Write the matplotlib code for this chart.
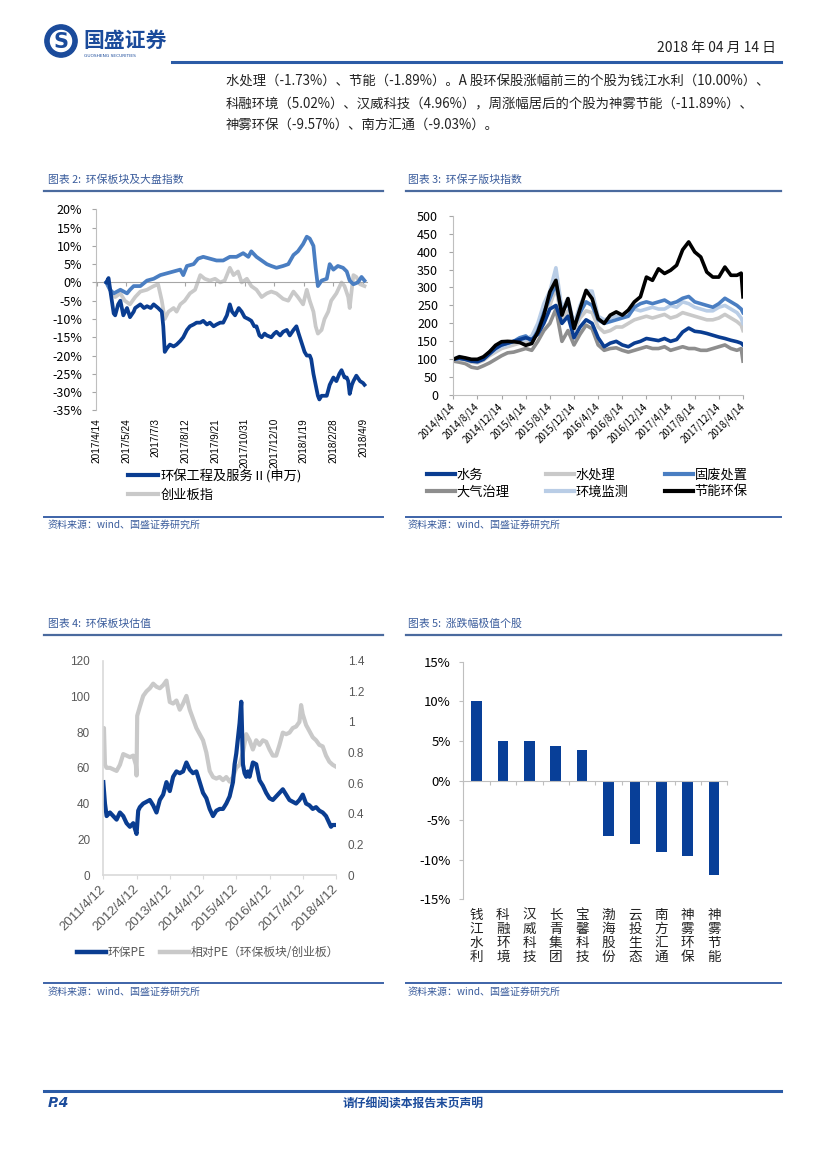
import matplotlib
matplotlib.use('Agg')
import matplotlib.pyplot as plt
import matplotlib.transforms as mtransforms
from matplotlib.lines import Line2D
from matplotlib.patches import Circle
import numpy as np

plt.rcParams['font.family'] = ['Noto Sans CJK SC', 'DejaVu Sans']
plt.rcParams['axes.unicode_minus'] = False

# ---------------- data ----------------
# Chart 2: index performance, day offsets from 2017/4/14, values in %
env_days = [13, 16, 19, 23, 25, 29, 32, 36, 41, 45, 50, 52, 59, 64, 68, 73, 77, 83, 88, 90, 92, 95, 99,
            104, 108, 113, 117, 122, 126, 131, 135, 140, 144, 149, 153, 158, 162, 167, 171, 176, 180,
            183, 187, 192, 196, 200, 205, 209, 213, 216, 220, 223, 227, 230, 236, 240, 243, 248, 252,
            257, 261, 266, 270, 273, 277, 281, 284, 288, 290, 293, 296, 299, 301, 304, 308, 311, 315,
            320, 324, 328, 331, 335, 338, 340, 342, 345, 347, 351, 356, 360, 362]
env_vals = [0, 1.2, -3, -8.5, -9, -6, -5, -9, -7, -9.5, -8, -7, -6, -7, -6.5, -7, -6, -7, -8, -12, -19, -18,
            -17, -17.5, -17, -16, -15, -13, -12, -11.5, -11, -11, -10.5, -11.5, -11, -12, -11.5, -11,
            -11, -9, -6, -8, -9, -7, -8, -9.5, -10, -10.5, -12, -12, -14.5, -15, -14, -14.5, -15, -14,
            -13.5, -14.5, -13.5, -13, -14.5, -13, -12, -14, -16.5, -19, -20, -20, -21, -25, -28, -31,
            -32, -31, -31, -31, -28, -26, -27, -25, -24, -26, -26, -27, -30.5, -28, -27, -25.5, -27,
            -27.5, -28]

idx_days = [13, 18, 23, 32, 41, 45, 50, 59, 68, 77, 86, 95, 104, 113, 117, 122, 131, 137, 144, 153, 162,
            171, 180, 189, 198, 205, 209, 216, 223, 230, 236, 243, 252, 259, 266, 272, 279, 284, 288,
            293, 296, 299, 304, 311, 315, 320, 326, 333, 338, 342, 347, 353, 358, 362]
idx_vals = [0, -2, -3, -2, -3, -2, -1, -1, 0.5, 1, 2, 2.5, 3, 3.5, 2, 4.5, 5, 6.5, 7, 6.5, 6, 6, 7, 7, 8,
            7, 8.5, 7, 6, 5, 4.5, 4, 4.5, 5, 7.5, 8.5, 10.5, 12.5, 12, 10, 4, -1, 0.5, 1, 5, 3.5, 4.5,
            4, 3, 0.5, -0.5, 0, 1.5, 0.5]

cyb_days = [13, 18, 25, 32, 38, 45, 52, 59, 68, 77, 83, 88, 92, 97, 104, 108, 113, 119, 126, 133, 140,
            146, 153, 160, 167, 173, 180, 185, 191, 196, 203, 209, 216, 223, 230, 236, 243, 252, 259,
            266, 272, 279, 284, 288, 293, 296, 299, 304, 308, 313, 317, 324, 331, 335, 340, 342, 347,
            351, 356, 362]
cyb_vals = [0, -2, -4, -3, -5, -6, -4, -2.5, -2, -1, -0.5, -5, -10, -8, -7, -8, -6, -5, -3, -2, 2, 1,
            0.5, 1, 0, 0.5, 4, 2, 3, 0, 1, -1, -2, -4, -3, -2.5, -3, -4.5, -5, -2.5, -4, -6, -2, -5,
            -8, -12, -14, -13, -10, -8, -5, -3, 0, -1, -4, -7, 2, 1.5, -0.5, -1]

c2_tick_days = [0, 40, 80, 120, 160, 200, 240, 280, 320, 360]
c2_tick_labels = ['2017/4/14', '2017/5/24', '2017/7/3', '2017/8/12', '2017/9/21', '2017/10/31',
                  '2017/12/10', '2018/1/19', '2018/2/28', '2018/4/9']

# Chart 3: sub-sector indices, months since 2014/4/14
c3_months = list(range(48)) + [47.7, 48]
water = [100, 103, 100, 95, 93, 100, 115, 130, 140, 145, 150, 155, 160, 155, 170, 200, 240, 250, 200,
         220, 160, 190, 210, 200, 160, 135, 145, 150, 140, 135, 145, 150, 158, 155, 152, 158, 150, 155,
         176, 187, 178, 176, 172, 167, 162, 158, 153, 149, 145, 140]
water_treat = [100, 100, 97, 92, 90, 97, 110, 120, 130, 135, 140, 145, 150, 150, 180, 220, 250, 300,
               210, 235, 180, 215, 235, 230, 190, 175, 180, 190, 190, 200, 210, 215, 220, 215, 220,
               225, 215, 220, 230, 225, 220, 215, 210, 210, 215, 225, 215, 205, 195, 180]
solid_waste = [100, 103, 100, 95, 96, 105, 120, 135, 140, 145, 150, 160, 165, 150, 180, 230, 270, 310,
               230, 260, 190, 230, 260, 250, 210, 200, 205, 210, 215, 220, 245, 255, 260, 255, 260,
               265, 255, 260, 270, 275, 260, 255, 250, 245, 255, 270, 260, 250, 240, 230]
air = [95, 92, 88, 78, 75, 82, 90, 100, 110, 118, 120, 125, 130, 125, 150, 180, 200, 240, 150, 180,
       140, 170, 195, 185, 140, 125, 130, 132, 125, 120, 125, 130, 135, 130, 130, 135, 125, 130, 135,
       130, 130, 125, 125, 130, 135, 140, 130, 125, 130, 95]
monitor = [100, 108, 102, 98, 97, 103, 115, 125, 135, 140, 150, 150, 155, 165, 200, 255, 290, 355,
           240, 270, 200, 250, 290, 290, 220, 210, 215, 220, 220, 230, 240, 235, 240, 245, 240, 240,
           250, 245, 260, 255, 245, 240, 235, 235, 245, 250, 240, 230, 215, 200]
energy = [100, 107, 104, 100, 100, 107, 121, 139, 149, 150, 149, 147, 139, 144, 176, 223, 288, 320,
          223, 269, 186, 241, 292, 269, 213, 200, 223, 232, 223, 237, 260, 274, 329, 320, 352, 339,
          348, 362, 405, 427, 399, 385, 343, 329, 329, 357, 334, 334, 340, 274]
c3_tick_months = list(range(0, 49, 4))
c3_tick_labels = ['2014/4/14', '2014/8/14', '2014/12/14', '2015/4/14', '2015/8/14', '2015/12/14',
                  '2016/4/14', '2016/8/14', '2016/12/14', '2017/4/14', '2017/8/14', '2017/12/14',
                  '2018/4/14']

# Chart 4: valuation, years since 2011/4/12
pe_years = [0.0, 0.05, 0.1, 0.2, 0.3, 0.4, 0.5, 0.6, 0.7, 0.8, 0.9, 1.0, 1.05, 1.1, 1.2, 1.3, 1.4, 1.5,
            1.6, 1.7, 1.8, 1.9, 2.0, 2.1, 2.2, 2.3, 2.4, 2.5, 2.6, 2.7, 2.8, 2.9, 3.0, 3.1, 3.2, 3.3,
            3.4, 3.5, 3.6, 3.7, 3.8, 3.9, 3.95, 4.0, 4.1, 4.15, 4.2, 4.25, 4.3, 4.35, 4.4, 4.5, 4.6,
            4.7, 4.8, 4.9, 5.0, 5.1, 5.2, 5.3, 5.4, 5.5, 5.6, 5.7, 5.8, 5.9, 6.0, 6.1, 6.2, 6.3, 6.4,
            6.5, 6.6, 6.7, 6.8, 6.85, 6.9, 6.98]
pe_vals = [52, 40, 33, 35, 33, 31, 35, 33, 29, 27, 29, 23, 36, 38, 40, 41, 42, 39, 35, 42, 45, 52, 47,
           55, 58, 57, 58, 63, 59, 57, 58, 52, 46, 43, 37, 33, 36, 37, 37, 40, 44, 52, 62, 68, 85, 97,
           62, 57, 55, 58, 55, 63, 62, 53, 50, 46, 43, 42, 44, 46, 48, 45, 42, 41, 40, 42, 45, 40, 39,
           37, 38, 36, 35, 33, 29, 27, 28, 28]
rel_years = [0.0, 0.02, 0.05, 0.1, 0.2, 0.3, 0.4, 0.5, 0.6, 0.7, 0.8, 0.9, 0.98, 1.0, 1.02, 1.1, 1.2,
             1.3, 1.4, 1.5, 1.6, 1.7, 1.8, 1.9, 1.95, 2.0, 2.1, 2.2, 2.3, 2.4, 2.5, 2.6, 2.7, 2.8, 2.9,
             3.0, 3.1, 3.2, 3.3, 3.4, 3.5, 3.6, 3.7, 3.8, 3.9, 4.0, 4.1, 4.2, 4.3, 4.4, 4.5, 4.6, 4.7,
             4.8, 4.9, 5.0, 5.1, 5.2, 5.3, 5.4, 5.5, 5.6, 5.7, 5.8, 5.9, 5.95, 6.0, 6.1, 6.2, 6.3, 6.4,
             6.5, 6.6, 6.7, 6.8, 6.9, 6.98]
rel_vals = [0.96, 0.96, 0.72, 0.70, 0.70, 0.69, 0.68, 0.72, 0.79, 0.78, 0.77, 0.78, 0.72, 0.65, 1.04,
            1.10, 1.17, 1.20, 1.22, 1.25, 1.23, 1.22, 1.24, 1.27, 1.20, 1.13, 1.12, 1.14, 1.08, 1.12,
            1.17, 1.08, 1.02, 0.96, 0.92, 0.88, 0.80, 0.68, 0.64, 0.63, 0.64, 0.62, 0.64, 0.61, 0.64,
            0.70, 0.72, 0.80, 0.92, 0.88, 0.82, 0.88, 0.85, 0.88, 0.87, 0.82, 0.78, 0.78, 0.85, 0.93,
            0.92, 0.93, 0.96, 0.97, 1.00, 1.11, 1.05, 0.98, 0.94, 0.90, 0.88, 0.85, 0.84, 0.78, 0.74,
            0.72, 0.71]
c4_tick_labels = ['2011/4/12', '2012/4/12', '2013/4/12', '2014/4/12', '2015/4/12', '2016/4/12',
                  '2017/4/12', '2018/4/12']

# Chart 5: weekly extreme movers
stocks = ['钱江水利', '科融环境', '汉威科技', '长青集团', '宝馨科技',
          '渤海股份', '云投生态', '南方汇通', '神雾环保', '神雾节能']
changes = [10.00, 5.02, 4.96, 4.30, 3.80, -6.96, -8.04, -9.03, -9.57, -11.89]

# ---------------- styles ----------------
W, H = 827, 1169
DARK = '#0A3D91'
MID = '#4A7EC2'
LGREY = '#C9C9C9'
GREY = '#8E8E8E'
LBLUE = '#B9CDE6'
BAR = '#083F98'
HEAD = '#4A6A9E'
TXTBLUE = '#3A5C9C'
AXGREY = '#A6A6A6'

fig = plt.figure(figsize=(8.27, 11.69), dpi=100)


def fx(x):
    return x / W


def fy(y):
    return 1 - y / H


def add_ax(l, t, r, b):
    return fig.add_axes([l / W, 1 - b / H, (r - l) / W, (b - t) / H])


def hline(x1, x2, y, color, lw):
    fig.add_artist(Line2D([fx(x1), fx(x2)], [fy(y), fy(y)], transform=fig.transFigure,
                          color=color, lw=lw))


# ---------------- header ----------------
logo = fig.add_axes([fx(44), fy(58), 34 / W, 34 / H])
logo.set_xlim(-1, 1)
logo.set_ylim(-1, 1)
logo.set_aspect('equal')
logo.axis('off')
logo.add_patch(Circle((0, 0), 0.95, color='#1B4B9B'))
logo.add_patch(Circle((0, 0), 0.62, color='white'))
logo.text(0, -0.05, 'S', color='#1B4B9B', fontsize=15, fontweight='bold', ha='center', va='center',
          family='DejaVu Sans')
fig.text(fx(83), fy(40), '国盛证券', fontsize=15, fontweight='bold', color='#1B4B9B', va='center')
fig.text(fx(84), fy(56), 'GUOSHENG SECURITIES', fontsize=3.2, color='#1B4B9B', va='center',
         family='DejaVu Sans')
fig.text(fx(776), fy(48), '2018 年 04 月 14 日', fontsize=10, ha='right', va='center', color='#222222')
hline(172, 781, 62, '#2B5BA6', 2.2)

body = ['水处理（-1.73%）、节能（-1.89%）。A 股环保股涨幅前三的个股为钱江水利（10.00%）、',
        '科融环境（5.02%）、汉威科技（4.96%），周涨幅居后的个股为神雾节能（-11.89%）、',
        '神雾环保（-9.57%）、南方汇通（-9.03%）。']
for i, line in enumerate(body):
    fig.text(fx(226), fy(82 + 21.5 * i), line, fontsize=9.6, va='center', color='#222222')

# section titles / rules
for (x, y, t) in [(48, 180, '图表 2:  环保板块及大盘指数'), (408, 180, '图表 3:  环保子版块指数'),
                  (48, 624, '图表 4:  环保板块估值'), (408, 624, '图表 5:  涨跌幅极值个股')]:
    fig.text(fx(x), fy(y), t, fontsize=7.8, color=TXTBLUE, va='center')
for (x1, x2, y) in [(44, 383, 191), (406, 781, 191), (44, 383, 635), (406, 781, 635)]:
    hline(x1, x2, y, HEAD, 1.6)
for (x1, x2, y) in [(44, 383, 517), (406, 781, 517), (44, 383, 983), (406, 781, 983)]:
    hline(x1, x2, y, '#3D63A8', 1.4)
for (x, y) in [(48, 525), (408, 525), (48, 992), (408, 992)]:
    fig.text(fx(x), fy(y), '资料来源：wind、国盛证券研究所', fontsize=7.2, color=TXTBLUE, va='center')

# footer
hline(44, 781, 1091, '#2B5BA6', 2.2)
fig.text(fx(48), fy(1103), 'P.4', fontsize=10, fontweight='bold', style='italic', color='#1B4B9B',
         va='center', family='DejaVu Sans')
fig.text(fx(413), fy(1103), '请仔细阅读本报告末页声明', fontsize=8.5, fontweight='bold', color='#1B4B9B',
         va='center', ha='center')

# ---------------- chart 2 ----------------
ax2 = add_ax(95.96, 209.3, 366.7, 410.4)
l_cyb, = ax2.plot(cyb_days, cyb_vals, color=LGREY, lw=2.7, label='创业板指', zorder=2)
ax2.plot(idx_days, idx_vals, color=MID, lw=2.7, label='_nolegend_', zorder=3)
l_env, = ax2.plot(env_days, env_vals, color=DARK, lw=2.7, label='环保工程及服务Ⅱ(申万)', zorder=4)
ax2.set_xlim(-1, 365)
ax2.set_ylim(-35, 20)
yt = list(range(-35, 21, 5))
ax2.set_yticks(yt, [f'{v}%' for v in yt])
ax2.tick_params(axis='y', length=3, pad=7, labelsize=9, colors=AXGREY, labelcolor='black')
for s in ['top', 'right']:
    ax2.spines[s].set_visible(False)
ax2.spines['left'].set_color('#BFBFBF')
ax2.spines['bottom'].set_position(('data', 0))
ax2.spines['bottom'].set_color(AXGREY)
ax2.set_xticks(c2_tick_days)
ax2.tick_params(axis='x', length=3, direction='out', colors=AXGREY, labelbottom=False)
sec = ax2.secondary_xaxis(0)
sec.set_xticks(c2_tick_days, c2_tick_labels)
sec.tick_params(length=0, pad=5.5, rotation=90)
for s in sec.spines.values():
    s.set_visible(False)
for lab in sec.get_xticklabels():
    lab.set_family('Liberation Sans')
    lab.set_fontsize(7.2)
leg2 = fig.legend(handles=[l_env, l_cyb], loc='upper left', bbox_to_anchor=(fx(128), fy(469)),
                  frameon=False, fontsize=9.5, handlelength=2.3, handletextpad=0.15,
                  labelspacing=0.45, borderpad=0, borderaxespad=0)
for h in leg2.legend_handles:
    h.set_linewidth(3)

# ---------------- chart 3 ----------------
ax3 = add_ax(453.3, 215.7, 743, 395.2)
LW3 = 2.6
h_air, = ax3.plot(c3_months, air, color=GREY, lw=LW3, label='大气治理')
h_wt, = ax3.plot(c3_months, water_treat, color=LGREY, lw=LW3, label='水处理')
h_mon, = ax3.plot(c3_months, monitor, color=LBLUE, lw=LW3, label='环境监测')
h_sw, = ax3.plot(c3_months, solid_waste, color=MID, lw=LW3, label='固废处置')
h_w, = ax3.plot(c3_months, water, color=DARK, lw=LW3, label='水务')
h_en, = ax3.plot(c3_months, energy, color='black', lw=LW3, label='节能环保')
ax3.set_xlim(0, 48)
ax3.set_ylim(0, 500)
ax3.set_yticks(range(0, 501, 50))
ax3.set_xticks(c3_tick_months, c3_tick_labels, rotation=45, ha='right', va='center',
               rotation_mode='anchor')
ax3.tick_params(axis='y', length=3, pad=8, labelsize=9, colors=AXGREY, labelcolor='black')
ax3.tick_params(axis='x', length=3, pad=4, labelsize=7, colors=AXGREY, labelcolor='black')
for s in ['top', 'right']:
    ax3.spines[s].set_visible(False)
ax3.spines['left'].set_color('#BFBFBF')
ax3.spines['bottom'].set_color('#BFBFBF')
leg3 = fig.legend(handles=[h_w, h_air, h_wt, h_mon, h_sw, h_en], ncol=3, loc='upper left',
                  bbox_to_anchor=(fx(427), fy(469)), frameon=False, fontsize=9.5, handlelength=2.1,
                  handletextpad=0.15, columnspacing=2.75, labelspacing=0.25, borderpad=0,
                  borderaxespad=0)
for h in leg3.legend_handles:
    h.set_linewidth(3)

# ---------------- chart 4 ----------------
ax4 = add_ax(103.3, 660.7, 336, 875)
ax4r = ax4.twinx()
l_rel, = ax4r.plot(rel_years, rel_vals, color=LGREY, lw=3.0, label='相对PE（环保板块/创业板）')
l_pe, = ax4.plot(pe_years, pe_vals, color=DARK, lw=3.0, label='环保PE')
ax4.set_zorder(ax4r.get_zorder() + 1)
ax4.patch.set_visible(False)
ax4.set_xlim(0, 7)
ax4.set_ylim(0, 120)
ax4r.set_ylim(0, 1.4)
ax4.set_yticks(range(0, 121, 20))
rt = [0, 0.2, 0.4, 0.6, 0.8, 1.0, 1.2, 1.4]
ax4r.set_yticks(rt, ['0', '0.2', '0.4', '0.6', '0.8', '1', '1.2', '1.4'])
ax4.set_xticks(range(8), c4_tick_labels, rotation=45, ha='right', va='center',
               rotation_mode='anchor')
for a in (ax4, ax4r):
    for s in ['top', 'right']:
        a.spines[s].set_visible(False)
    a.spines['left'].set_visible(False)
    a.spines['bottom'].set_visible(False)
ax4.spines['left'].set_visible(True)
ax4.spines['left'].set_color('#D9D9D9')
ax4.spines['left'].set_linewidth(1.2)
ax4.spines['bottom'].set_visible(True)
ax4.spines['bottom'].set_color('#D9D9D9')
ax4.spines['bottom'].set_linewidth(1.2)
ax4.tick_params(axis='y', length=0, pad=9.5, labelsize=8.5, labelcolor='#595959')
ax4r.tick_params(axis='y', length=0, pad=8.6, labelsize=8.5, labelcolor='#595959')
ax4.tick_params(axis='x', length=3, pad=6, labelsize=9.5, colors='#D9D9D9', labelcolor='#595959')
for lab in ax4.get_yticklabels() + ax4r.get_yticklabels() + ax4.get_xticklabels():
    lab.set_family('Liberation Sans')
leg4 = fig.legend(handles=[l_pe, l_rel], ncol=2, loc='upper left', bbox_to_anchor=(fx(77), fy(946)),
                  frameon=False, fontsize=8.5, handlelength=2.45, handletextpad=0.15,
                  columnspacing=1.2, borderpad=0, borderaxespad=0)
for t in leg4.get_texts():
    t.set_color('#595959')
for h in leg4.legend_handles:
    h.set_linewidth(3.2)

# ---------------- chart 5 ----------------
ax5 = add_ax(463.3, 661.7, 727.3, 899.3)
ax5.bar(range(len(stocks)), changes, width=0.4, color=BAR, zorder=2)
ax5.set_xlim(-0.5, len(stocks) - 0.5)
ax5.set_ylim(-15, 15)
yt5 = list(range(-15, 16, 5))
ax5.set_yticks(yt5, [f'{v}%' for v in yt5])
ax5.set_xticks(np.arange(-0.5, len(stocks), 1.0), [''] * (len(stocks) + 1))
for s in ['top', 'right']:
    ax5.spines[s].set_visible(False)
ax5.spines['left'].set_color('#BFBFBF')
ax5.spines['bottom'].set_position(('data', 0))
ax5.spines['bottom'].set_color('#BFBFBF')
ax5.spines['bottom'].set_zorder(3)
ax5.tick_params(axis='y', length=3, pad=6, labelsize=9.5, colors='#BFBFBF', labelcolor='black')
ax5.tick_params(axis='x', length=3, direction='out', colors='#BFBFBF')
trans5 = mtransforms.blended_transform_factory(ax5.transData, ax5.transAxes)
for i, name in enumerate(stocks):
    ax5.text(i, -0.035, '\n'.join(name), transform=trans5, ha='center', va='top', fontsize=9.8,
             linespacing=1.0, color='#222222')

fig.savefig('out.png', dpi=100)
